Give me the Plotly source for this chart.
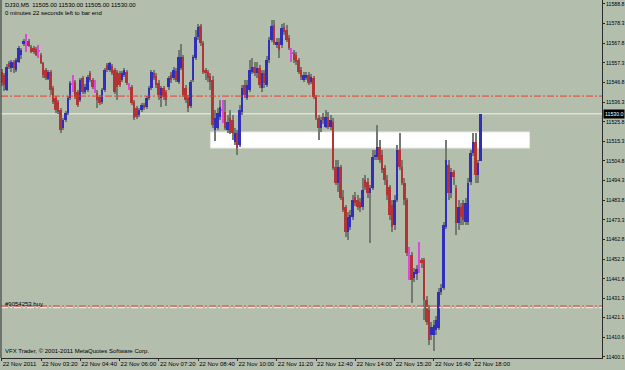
import plotly.graph_objects as go
import pandas as pd

# ---------------- data ----------------
symbol_text = "DJ30,M5  11505.00 11530.00 11505.00 11530.00"
timer_text = "0 minutes 22 seconds left to bar end"
order_text = "#9054253 buy"
copyright_text = "VFX Trader, \u00a9 2001-2011 MetaQuotes Software Corp."

first_bar = "2011-11-22 02:00"

open_ = [
11552.4, 11550.8, 11542.8, 11557.2, 11554.5, 11557.7, 11553.5, 11557.7, 11561.5, 11567.4,
11568.4, 11569.0, 11565.8, 11565.2, 11564.7, 11563.6, 11561.5, 11557.2, 11553.5, 11548.6,
11552.4, 11543.8, 11538.5, 11536.3, 11532.1, 11522.4, 11526.7, 11530.5, 11538.5, 11546.0,
11547.0, 11541.7, 11537.4, 11549.2, 11541.7, 11542.8, 11551.8, 11548.1, 11543.8, 11541.1,
11539.0, 11536.3, 11542.8, 11556.1, 11553.5, 11555.6, 11553.5, 11552.4, 11551.8, 11548.1,
11550.8, 11552.4, 11544.9, 11544.4, 11536.3, 11533.1, 11529.4, 11532.1, 11534.7, 11533.7,
11538.5, 11543.8, 11551.8, 11550.2, 11546.5, 11538.5, 11543.8, 11541.7, 11544.4, 11550.8,
11549.2, 11552.9, 11547.0, 11554.5, 11560.4, 11543.8, 11538.5, 11534.2, 11548.1, 11559.9,
11571.1, 11577.0, 11567.9, 11553.5, 11552.4, 11550.2, 11548.1, 11521.4, 11522.4, 11528.3,
11532.1, 11531.0, 11521.4, 11527.8, 11526.7, 11514.9, 11519.7, 11513.3, 11531.0, 11545.4,
11538.5, 11542.8, 11552.4, 11555.1, 11551.8, 11554.5, 11543.8, 11551.8, 11545.4, 11558.8,
11569.5, 11577.5, 11566.8, 11568.4, 11566.8, 11576.5, 11574.9, 11570.6, 11562.5, 11562.5,
11561.5, 11558.8, 11553.5, 11548.1, 11549.2, 11550.8, 11547.0, 11549.2, 11539.0, 11527.8,
11522.4, 11528.3, 11523.0, 11528.3, 11523.0, 11525.6, 11501.6, 11493.0, 11501.6, 11485.5,
11480.1, 11466.8, 11469.5, 11474.8, 11485.5, 11483.9, 11482.8, 11480.1, 11494.6, 11493.5,
11487.7, 11490.3, 11506.9, 11506.9, 11512.3, 11508.0, 11501.0, 11494.6, 11490.9, 11481.2,
11470.5, 11483.9, 11510.7, 11501.6, 11493.0, 11483.9, 11451.8, 11454.5, 11442.2, 11444.3,
11448.1, 11451.8, 11451.8, 11430.4, 11425.0, 11411.7, 11411.7, 11414.4, 11415.4, 11434.7,
11436.8, 11469.5, 11502.6, 11487.7, 11498.9, 11490.3, 11471.6, 11480.1, 11482.3, 11472.1,
11472.1, 11493.5, 11509.0, 11514.9, 11497.3, 11505.0,
]

high = [
11554.0, 11551.8, 11556.7, 11558.3, 11558.8, 11558.8, 11559.9, 11566.3, 11565.2, 11570.0,
11572.7, 11570.0, 11566.8, 11566.3, 11565.8, 11566.8, 11562.5, 11557.7, 11554.5, 11553.5,
11553.5, 11544.9, 11539.5, 11537.4, 11533.1, 11527.8, 11531.5, 11539.5, 11547.6, 11550.8,
11548.1, 11542.8, 11549.2, 11550.2, 11546.0, 11550.8, 11552.9, 11549.2, 11548.1, 11542.8,
11540.1, 11543.8, 11554.5, 11557.2, 11557.7, 11556.7, 11554.5, 11553.5, 11552.9, 11552.9,
11554.5, 11553.5, 11546.5, 11545.4, 11537.4, 11534.2, 11533.1, 11535.8, 11535.8, 11539.5,
11544.9, 11553.5, 11553.5, 11551.8, 11548.1, 11544.9, 11544.9, 11542.8, 11550.2, 11552.4,
11555.1, 11554.5, 11564.2, 11567.4, 11561.5, 11545.4, 11540.1, 11548.1, 11561.5, 11574.9,
11578.1, 11578.1, 11569.0, 11554.5, 11553.5, 11551.8, 11550.2, 11532.1, 11533.1, 11537.4,
11537.4, 11537.4, 11529.4, 11532.1, 11529.4, 11522.4, 11521.4, 11534.7, 11545.4, 11548.1,
11548.1, 11558.8, 11559.9, 11557.7, 11557.7, 11556.1, 11553.5, 11553.5, 11560.9, 11571.1,
11580.2, 11580.2, 11570.6, 11570.6, 11578.1, 11578.6, 11577.5, 11572.2, 11565.2, 11564.2,
11563.1, 11559.9, 11555.1, 11552.4, 11552.4, 11552.4, 11551.3, 11550.2, 11540.1, 11529.4,
11528.3, 11530.5, 11532.1, 11531.0, 11529.4, 11527.8, 11505.3, 11505.3, 11502.6, 11489.3,
11481.2, 11477.5, 11478.6, 11486.6, 11488.2, 11486.6, 11485.0, 11495.7, 11497.3, 11495.7,
11491.9, 11510.7, 11510.7, 11524.0, 11516.0, 11510.7, 11502.6, 11497.3, 11491.9, 11483.9,
11486.6, 11513.3, 11519.7, 11505.3, 11495.7, 11485.0, 11458.8, 11456.1, 11447.5, 11449.1,
11461.4, 11452.9, 11452.9, 11432.5, 11427.7, 11418.6, 11419.7, 11421.8, 11436.8, 11439.0,
11472.1, 11516.0, 11505.3, 11501.0, 11500.0, 11491.9, 11483.9, 11482.3, 11483.9, 11485.0,
11495.7, 11510.7, 11519.7, 11519.7, 11505.3, 11530.0,
]

low = [
11544.9, 11542.2, 11542.2, 11554.0, 11552.4, 11551.8, 11552.4, 11557.2, 11559.3, 11566.3,
11563.1, 11565.8, 11562.5, 11562.0, 11560.9, 11559.9, 11556.7, 11549.2, 11548.1, 11548.1,
11540.1, 11535.3, 11530.5, 11529.9, 11519.7, 11521.4, 11525.6, 11529.4, 11537.4, 11541.7,
11537.9, 11533.7, 11536.3, 11540.6, 11540.6, 11541.7, 11547.0, 11543.3, 11541.1, 11533.1,
11534.7, 11535.3, 11541.7, 11552.4, 11552.4, 11550.8, 11540.6, 11537.4, 11544.4, 11547.0,
11549.7, 11545.4, 11542.8, 11534.7, 11526.7, 11527.2, 11528.3, 11531.0, 11532.1, 11532.6,
11537.4, 11542.8, 11548.1, 11543.8, 11537.4, 11533.7, 11537.4, 11534.2, 11542.8, 11546.5,
11548.1, 11547.0, 11546.0, 11553.5, 11539.0, 11535.8, 11531.0, 11533.1, 11547.0, 11558.8,
11569.5, 11566.3, 11551.3, 11548.1, 11547.0, 11542.8, 11522.4, 11515.5, 11521.4, 11526.7,
11525.1, 11521.4, 11519.7, 11519.2, 11516.0, 11513.3, 11508.0, 11512.3, 11529.4, 11538.5,
11537.4, 11541.7, 11551.3, 11550.2, 11549.2, 11543.8, 11541.7, 11543.8, 11544.4, 11557.2,
11568.4, 11566.8, 11565.2, 11559.9, 11565.2, 11572.2, 11568.4, 11564.2, 11557.7, 11557.2,
11556.1, 11551.3, 11548.1, 11547.0, 11548.1, 11545.4, 11546.0, 11537.9, 11526.7, 11516.0,
11520.3, 11524.6, 11522.4, 11521.9, 11521.4, 11500.0, 11491.9, 11488.2, 11483.9, 11477.5,
11464.1, 11462.5, 11467.9, 11473.2, 11480.7, 11478.6, 11477.5, 11478.6, 11489.3, 11485.0,
11460.9, 11489.3, 11505.3, 11505.3, 11503.7, 11498.4, 11491.9, 11483.9, 11473.2, 11466.8,
11467.9, 11482.8, 11500.0, 11491.9, 11481.2, 11453.9, 11441.1, 11428.8, 11440.0, 11441.1,
11444.8, 11447.5, 11419.7, 11417.0, 11406.4, 11409.0, 11403.1, 11411.7, 11414.4, 11433.1,
11435.8, 11468.4, 11483.9, 11485.0, 11491.9, 11465.2, 11467.9, 11470.5, 11470.5, 11470.5,
11470.5, 11491.9, 11507.4, 11493.0, 11493.0, 11505.0,
]

close = [
11546.5, 11545.4, 11555.1, 11555.1, 11557.7, 11554.5, 11558.8, 11565.2, 11564.2, 11569.0,
11568.4, 11566.3, 11563.1, 11563.1, 11561.5, 11563.6, 11557.2, 11550.8, 11549.2, 11552.4,
11542.8, 11536.3, 11532.1, 11531.0, 11521.4, 11526.7, 11530.5, 11538.5, 11546.5, 11546.0,
11539.0, 11534.7, 11548.1, 11541.7, 11544.4, 11549.7, 11548.1, 11544.4, 11543.8, 11537.4,
11535.8, 11542.8, 11553.5, 11553.5, 11557.2, 11551.8, 11541.7, 11544.4, 11545.4, 11551.8,
11553.5, 11546.5, 11544.9, 11535.8, 11527.8, 11528.3, 11532.1, 11534.7, 11533.1, 11538.5,
11543.8, 11552.4, 11549.2, 11545.4, 11540.1, 11543.8, 11539.0, 11537.4, 11549.2, 11548.1,
11553.5, 11548.1, 11560.4, 11560.4, 11540.1, 11537.4, 11533.1, 11547.0, 11560.4, 11571.1,
11576.5, 11567.9, 11552.4, 11551.8, 11549.2, 11547.0, 11524.0, 11527.8, 11530.5, 11533.7,
11532.1, 11522.4, 11525.6, 11520.3, 11519.7, 11519.7, 11511.7, 11532.1, 11543.8, 11540.1,
11545.4, 11553.5, 11555.1, 11551.8, 11554.5, 11545.4, 11551.8, 11546.5, 11558.8, 11569.5,
11577.0, 11567.9, 11568.4, 11564.2, 11575.9, 11573.8, 11569.5, 11565.2, 11562.5, 11558.8,
11557.7, 11552.4, 11549.7, 11550.8, 11550.8, 11546.5, 11549.7, 11539.0, 11527.8, 11522.4,
11526.7, 11526.7, 11528.3, 11523.0, 11526.7, 11501.0, 11493.0, 11501.6, 11485.0, 11478.6,
11466.8, 11474.8, 11475.9, 11483.9, 11482.3, 11480.1, 11479.6, 11489.3, 11490.9, 11487.7,
11490.3, 11506.9, 11508.0, 11512.3, 11505.3, 11500.0, 11494.6, 11486.6, 11475.9, 11469.5,
11483.9, 11510.7, 11501.6, 11493.0, 11483.9, 11455.5, 11451.8, 11441.1, 11445.4, 11447.0,
11448.1, 11450.2, 11430.4, 11418.6, 11409.0, 11415.9, 11417.0, 11419.7, 11434.7, 11436.8,
11470.5, 11505.3, 11487.7, 11498.9, 11496.2, 11471.6, 11480.1, 11474.8, 11473.2, 11482.3,
11493.0, 11509.0, 11514.9, 11497.3, 11503.7, 11530.0,
]

x_tick_labels = ["22 Nov 2011", "22 Nov 03:20", "22 Nov 04:40", "22 Nov 06:00",
                 "22 Nov 07:20", "22 Nov 08:40", "22 Nov 10:00", "22 Nov 11:20",
                 "22 Nov 12:40", "22 Nov 14:00", "22 Nov 15:20", "22 Nov 16:40",
                 "22 Nov 18:00"]
x_tick_bars = [0, 16, 32, 48, 64, 80, 96, 112, 128, 144, 160, 176, 192][:len(x_tick_labels)]

y_tick_labels = ["11588.8", "11578.3", "11567.8", "11557.3", "11546.8", "11536.3",
                 "11525.8", "11515.3", "11504.8", "11494.3", "11483.8", "11473.3",
                 "11462.8", "11452.3", "11441.8", "11431.3", "11421.1", "11410.6",
                 "11400.1"]

bid_price = 11530.0
bid_label = "11530.0"
upper_level = 11539.5
order_level = 11427.2
order_level_b = 11426.3
zone_top = 11520.3
zone_bottom = 11511.7
zone_start_bar = 85.0
zone_end_bar = 214.9

# ---------------- styles ----------------
BG = "#b4bead"
BULL = "#2f2fbc"
BEAR = "#b33434"
DOJI = "#de48de"
WICK = "#737a71"
AXIS = "#2a2a2a"
FONT = "Liberation Sans"
FS = 6
FS_Y = 5.2

n = min(len(open_), len(high), len(low), len(close))
bar = pd.Timedelta(minutes=5)
t0 = pd.Timestamp(first_bar)
times = [t0 + i * bar for i in range(n)]
bar_ms = 300000

def kind(o, c):
    if c > o:
        return "bull"
    if c < o:
        return "bear"
    return "doji"

kinds = [kind(open_[i], close[i]) for i in range(n)]
body_col = [BULL if k == "bull" else BEAR if k == "bear" else DOJI for k in kinds]
wick_col = [DOJI if k == "doji" else WICK for k in kinds]
body_base = []
body_h = []
for i in range(n):
    lo = min(open_[i], close[i])
    h = abs(close[i] - open_[i])
    if h < 0.6:
        body_base.append(lo - 0.3)
        body_h.append(0.6)
    else:
        body_base.append(lo)
        body_h.append(h)

fig = go.Figure()
fig.add_trace(go.Bar(
    x=times, y=[high[i] - low[i] for i in range(n)], base=low[:n],
    width=0.45 * bar_ms, marker=dict(color=wick_col, line_width=0),
    hoverinfo="skip", showlegend=False))
fig.add_trace(go.Bar(
    x=times, y=body_h, base=body_base,
    width=0.8 * bar_ms, marker=dict(color=body_col, line_width=0),
    hoverinfo="skip", showlegend=False))

x_lo = t0 - 0.285 * bar
x_hi = t0 + 244.4 * bar

shapes = []
shapes.append(dict(type="rect", xref="x", yref="y", layer="below",
                   x0=t0 + zone_start_bar * bar, x1=t0 + zone_end_bar * bar,
                   y0=zone_bottom, y1=zone_top,
                   fillcolor="#ffffff", line=dict(color="#e6e8e2", width=1)))
shapes.append(dict(type="line", xref="paper", yref="y", layer="below",
                   x0=0, x1=1, y0=bid_price, y1=bid_price,
                   line=dict(color="#f2f2ec", width=1)))
for lvl in (upper_level, order_level):
    shapes.append(dict(type="line", xref="paper", yref="y", layer="above",
                       x0=0, x1=1, y0=lvl, y1=lvl,
                       line=dict(color="#ee3b30", width=1, dash="7px,2px,2px,2px")))
shapes.append(dict(type="line", xref="paper", yref="y", layer="above",
                   x0=0, x1=1, y0=order_level_b, y1=order_level_b,
                   line=dict(color="#f4f4f0", width=1, dash="7px,2px,2px,2px")))
shapes.append(dict(type="line", xref="paper", yref="paper", x0=0, x1=0, y0=0, y1=1,
                   line=dict(color=AXIS, width=1)))

annotations = [
    dict(xref="paper", yref="paper", x=0, y=1, xanchor="left", yanchor="top",
         xshift=2, yshift=0, text=symbol_text, showarrow=False,
         font=dict(family=FONT, size=FS, color="black")),
    dict(xref="paper", yref="paper", x=0, y=1, xanchor="left", yanchor="top",
         xshift=2, yshift=-8, text=timer_text, showarrow=False,
         font=dict(family=FONT, size=FS, color="black")),
    dict(xref="paper", yref="y", x=0, y=order_level, xanchor="left", yanchor="bottom",
         xshift=2, yshift=-3, text=order_text, showarrow=False,
         font=dict(family=FONT, size=FS, color="black")),
    dict(xref="paper", yref="paper", x=0, y=0, xanchor="left", yanchor="bottom",
         xshift=2, yshift=2, text=copyright_text, showarrow=False,
         font=dict(family=FONT, size=FS, color="black")),
    dict(xref="paper", yref="y", x=1, y=bid_price, xanchor="left", yanchor="middle",
         xshift=1, text=bid_label, showarrow=False, bgcolor="black", borderpad=1,
         font=dict(family=FONT, size=FS_Y, color="white")),
]

fig.update_layout(
    width=625, height=370,
    margin=dict(l=1, r=23, t=0, b=12, pad=0, autoexpand=False),
    paper_bgcolor=BG, plot_bgcolor=BG,
    barmode="overlay", bargap=0,
    shapes=shapes, annotations=annotations,
    showlegend=False,
    font=dict(family=FONT, size=FS, color="black"),
    xaxis=dict(
        type="date", range=[x_lo, x_hi], showgrid=False, zeroline=False,
        tickvals=[t0 + b * bar for b in x_tick_bars], ticktext=x_tick_labels,
        tickangle=0, automargin=False,
        ticks="outside", ticklen=2, tickcolor=AXIS, tickwidth=1,
        ticklabelposition="outside right",
        showline=True, linecolor=AXIS, linewidth=1,
        tickfont=dict(family=FONT, size=FS, color="black"), fixedrange=True),
    yaxis=dict(
        side="right", range=[11399.4, 11590.9], showgrid=False, zeroline=False,
        automargin=False,
        tickvals=[float(v) for v in y_tick_labels], ticktext=y_tick_labels,
        ticks="outside", ticklen=2, tickcolor=AXIS, tickwidth=1,
        ticklabelstandoff=0,
        showline=True, linecolor=AXIS, linewidth=1,
        tickfont=dict(family=FONT, size=FS_Y, color="black"), fixedrange=True),
)

fig.write_html("out.html")
